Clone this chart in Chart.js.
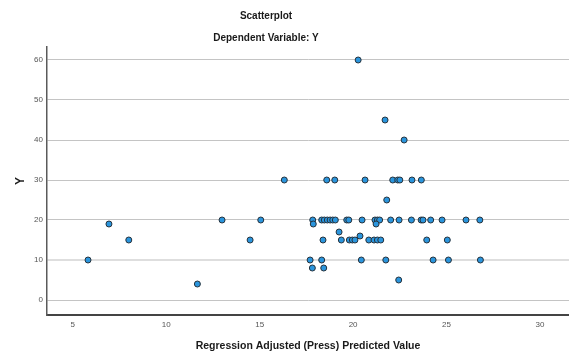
<!DOCTYPE html>
<html>
<head>
<meta charset="utf-8">
<script src="https://cdn.jsdelivr.net/npm/chart.js@4.4.0/dist/chart.umd.min.js"></script>
<style>
  html, body { margin: 0; padding: 0; background: #fff; }
  canvas { display: block; }
</style>
</head>
<body>
<canvas id="chart" width="569" height="354"></canvas>
<script>
const xValues = [
  20.27, 21.71, 22.73,
  16.32, 18.59, 19.02, 20.64, 22.12, 22.39, 22.50, 23.15, 23.65,
  21.80,
  12.99, 15.06, 17.84, 18.32, 18.46, 18.62, 18.77, 18.91, 19.05, 19.66, 19.77, 20.48,
  21.17, 21.30, 21.42, 22.01, 22.46, 23.12, 23.64, 23.74, 24.15, 24.76, 26.04, 26.78,
  6.94, 17.87, 21.23,
  19.25,
  20.37,
  8.00, 14.49, 18.39, 19.37, 19.80, 19.96, 20.10, 20.84, 21.12, 21.30, 21.48, 23.94, 25.04,
  5.82, 17.70, 18.32, 20.44, 21.75, 24.28, 25.10, 26.81,
  17.82, 18.43,
  22.44,
  11.67,
];
const yValues = [
  60, 45, 40,
  30, 30, 30, 30, 30, 30, 30, 30, 30,
  25,
  20, 20, 20, 20, 20, 20, 20, 20, 20, 20, 20, 20,
  20, 20, 20, 20, 20, 20, 20, 20, 20, 20, 20, 20,
  19, 19, 19,
  17,
  16,
  15, 15, 15, 15, 15, 15, 15, 15, 15, 15, 15, 15, 15,
  10, 10, 10, 10, 10, 10, 10, 10,
  8, 8,
  5,
  4,
];
const xTicks = [5, 10, 15, 20, 25, 30];
const yTicks = [0, 10, 20, 30, 40, 50, 60];

const font = 'Liberation Sans, Arial, sans-serif';
const colors = {
  point: '#2a95dd',
  pointBorder: '#26323c',
  grid: '#c4c4c4',
  gridLight: '#dedede',
  axis: '#5a5a5a',
  tick: '#555',
  text: '#1a1a1a',
};

const points = xValues.map((x, i) => ({ x, y: yValues[i] }));

// titles sit a bit left of center, like the SPSS output
const titlePlugin = {
  id: 'spssTitles',
  afterDraw(chart) {
    const ctx = chart.ctx;
    ctx.save();
    ctx.fillStyle = colors.text;
    ctx.textAlign = 'center';
    ctx.textBaseline = 'middle';
    ctx.font = `bold 10px ${font}`;
    ctx.fillText('Scatterplot', 266, 16);
    ctx.fillText('Dependent Variable: Y', 266, 38);
    ctx.restore();
  },
};

new Chart(document.getElementById('chart'), {
  type: 'scatter',
  data: {
    datasets: [{
      label: 'Y',
      data: points,
      backgroundColor: colors.point,
      borderColor: colors.pointBorder,
      borderWidth: 1,
      pointRadius: 3,
    }],
  },
  options: {
    responsive: false,
    animation: false,
    layout: { autoPadding: false, padding: { top: 47, right: 0, left: 0, bottom: 0 } },
    plugins: {
      legend: { display: false },
      tooltip: { enabled: false },
    },
    scales: {
      x: {
        type: 'linear',
        min: 3.625,
        max: 31.55,
        afterBuildTicks: s => { s.ticks = xTicks.map(v => ({ value: v })); },
        afterFit: s => {
          s.height = 39;
          s.paddingLeft = 0;
          s.paddingRight = 0;
        },
        grid: { display: false, drawTicks: false },
        border: { display: true, color: '#444', width: 2 },
        ticks: { color: colors.tick, font: { family: font, size: 8 }, padding: 5, maxRotation: 0 },
        title: {
          display: true,
          text: 'Regression Adjusted (Press) Predicted Value',
          color: colors.text,
          font: { family: font, size: 10.5, weight: 'bold' },
          padding: { top: 0, bottom: 2 },
        },
      },
      y: {
        type: 'linear',
        min: -3.75,
        max: 63.25,
        afterBuildTicks: s => { s.ticks = yTicks.map(v => ({ value: v })); },
        afterFit: s => {
          s.width = 47;
          s.paddingTop = 0;
          s.paddingBottom = 0;
        },
        grid: {
          drawTicks: false,
          color: ctx => (ctx.tick && ctx.tick.value === 10 ? colors.gridLight : colors.grid),
          lineWidth: ctx => (ctx.tick && ctx.tick.value === 10 ? 2 : 1),
        },
        border: { display: true, color: colors.axis, width: 1.5 },
        ticks: { color: colors.tick, font: { family: font, size: 8 }, padding: 4 },
        title: {
          display: true,
          text: 'Y',
          color: colors.text,
          font: { family: font, size: 12, weight: 'bold' },
          padding: { top: 13, bottom: 0 },
        },
      },
    },
  },
  plugins: [titlePlugin],
});
</script>
</body>
</html>
